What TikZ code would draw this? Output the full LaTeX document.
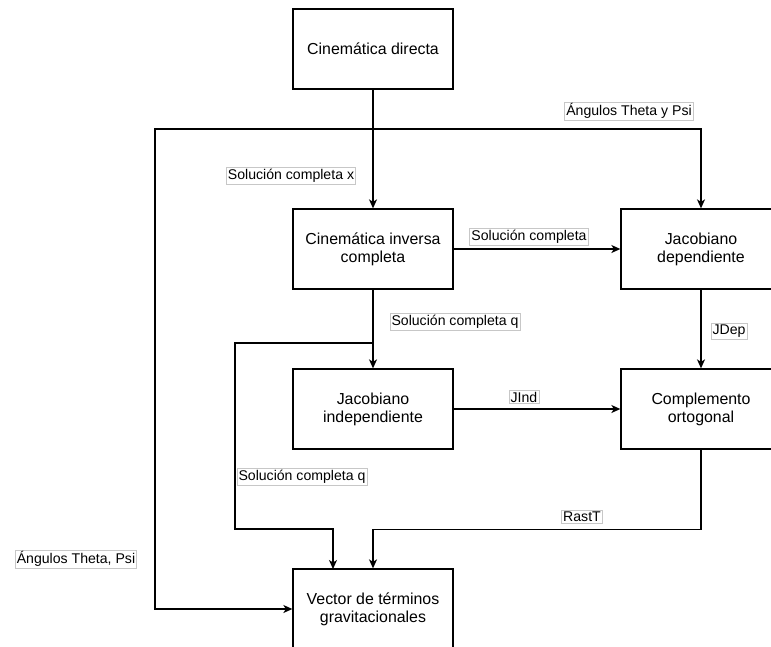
\documentclass[tikz,border=0pt]{standalone}
\usepackage{fontspec}
\setmainfont{Liberation Sans}
\usetikzlibrary{arrows.meta}
\begin{document}
\begin{tikzpicture}[x=1pt,y=-1pt,
  block/.style={draw=black, line width=1.3pt, fill=white, minimum width=160pt,
    minimum height=80pt, align=center, inner sep=0pt,
    font=\fontsize{15.9}{18}\selectfont},
  flow/.style={draw=black, line width=1.3pt, -{Stealth[length=9pt,width=8pt,inset=2.5pt]}},
  wire/.style={draw=black, line width=1.3pt},
  lbl/.style={draw=black!22, line width=0.6pt, fill=white, inner sep=1.6pt,
    font=\fontsize{14.1}{16}\selectfont}]
\useasboundingbox (0,0) rectangle (771,646);

% blocks
\node[block] (cd)  at (373,49)  {Cinemática directa};
\node[block] (cic) at (373,249) {Cinemática inversa\\completa};
\node[block] (jd)  at (701,249) {Jacobiano\\dependiente};
\node[block] (ji)  at (373,409) {Jacobiano\\independiente};
\node[block] (co)  at (701,409) {Complemento\\ortogonal};
\node[block] (vg)  at (373,609) {Vector de términos\\gravitacionales};

% branch points and corners
\coordinate (ang)  at (373,129);
\coordinate (angL) at (155,129);
\coordinate (solq) at (373,343);
\coordinate (solqL) at (235,343);
\coordinate (solqB) at (333,529);
\coordinate (vgq) at (333,569);

% connectors
\draw[flow] (cd.south) -- (cic.north);
\draw[flow] (ang) -| (jd.north);
\draw[flow] (ang) -- (angL) |- (vg.west);
\draw[flow] (cic.east) -- (jd.west);
\draw[flow] (cic.south) -- (ji.north);
\draw[flow] (solq) -- (solqL) |- (solqB) -- (vgq);
\draw[flow] (jd.south) -- (co.north);
\draw[flow] (ji.east) -- (co.west);
\draw[flow] (co.south) -- ++(0,80) -| (vg.north);

% labels
\node[lbl] (l1) at (629,111) {Ángulos Theta y Psi};
\node[lbl] (l2) at (291,176) {Solución completa x};
\node[lbl] (l3) at (529,237) {Solución completa};
\node[lbl] (l4) at (455,322) {Solución completa q};
\node[lbl] (l5) at (729,331) {JDep};
\node[lbl] (l6) at (524,397) {JInd};
\node[lbl] (l7) at (302,477) {Solución completa q};
\node[lbl] (l8) at (582,517) {RastT};
\node[lbl] (l9) at (76,559)  {Ángulos Theta, Psi};
\end{tikzpicture}
\end{document}
